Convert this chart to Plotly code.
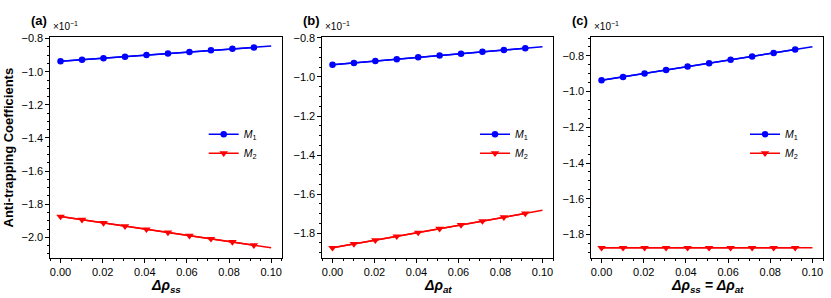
import plotly.graph_objects as go

# ---- data (values shown in units of 1e-1) ----
x_vals = [0.0, 0.0102, 0.0204, 0.0306, 0.0408, 0.0510, 0.0612, 0.0714, 0.0816, 0.0918, 0.1]
n_markers = 10

m1_a = [-0.937, -0.928, -0.918, -0.909, -0.899, -0.890, -0.881, -0.871, -0.862, -0.853, -0.845]
m2_a = [-1.875, -1.894, -1.913, -1.933, -1.952, -1.971, -1.990, -2.009, -2.028, -2.048, -2.063]

m1_b = [-0.937, -0.928, -0.918, -0.909, -0.899, -0.890, -0.881, -0.871, -0.862, -0.853, -0.845]
m2_b = [-1.875, -1.855, -1.836, -1.816, -1.797, -1.777, -1.758, -1.738, -1.718, -1.699, -1.683]

m1_c = [-0.937, -0.918, -0.899, -0.879, -0.860, -0.841, -0.822, -0.803, -0.784, -0.764, -0.749]
m2_c = [-1.875, -1.875, -1.875, -1.875, -1.875, -1.875, -1.875, -1.875, -1.875, -1.875, -1.875]

panel_labels = ["(a)", "(b)", "(c)"]
x_titles = ["<b><i>Δρ<sub>ss</sub></i></b>",
            "<b><i>Δρ<sub>at</sub></i></b>",
            "<b><i>Δρ<sub>ss</sub> = Δρ<sub>at</sub></i></b>"]
y_title = "Anti-trapping Coefficients"
series_names = ["<i>M</i><sub>1</sub>", "<i>M</i><sub>2</sub>"]
y_ranges = [[-2.125, -0.790], [-1.927, -0.795], [-1.932, -0.694]]

# ---- layout geometry ----
W, H = 831, 298
FONT = "Liberation Sans, Arial, sans-serif"
panels_px = [(50, 281.7), (322, 553), (591, 823)]
top_px, bot_px = 32.5, 257.3
ydom = [1 - bot_px / H, 1 - top_px / H]

fig = go.Figure()
data = [(m1_a, m2_a), (m1_b, m2_b), (m1_c, m2_c)]
colors = ["#0000ff", "#ff0000"]
symbols = ["circle", "triangle-down"]
sizes = [6.5, 7.5]

for i, (m1, m2) in enumerate(data):
    xa = "x" if i == 0 else f"x{i+1}"
    ya = "y" if i == 0 else f"y{i+1}"
    lg = "legend" if i == 0 else f"legend{i+1}"
    for j, ys in enumerate((m1, m2)):
        fig.add_trace(go.Scatter(x=x_vals, y=ys, mode="lines",
                                 line=dict(color=colors[j], width=1.5),
                                 xaxis=xa, yaxis=ya, showlegend=False,
                                 hoverinfo="skip"))
        fig.add_trace(go.Scatter(x=x_vals[:n_markers], y=ys[:n_markers],
                                 mode="lines+markers", name=series_names[j],
                                 line=dict(color=colors[j], width=1.5),
                                 marker=dict(color=colors[j], symbol=symbols[j], size=sizes[j]),
                                 xaxis=xa, yaxis=ya, legend=lg))

layout = dict(width=W, height=H, margin=dict(l=0, r=0, t=0, b=0),
              paper_bgcolor="white", plot_bgcolor="white",
              font=dict(family=FONT, size=11, color="black"))

annotations = []
for i, (x0, x1) in enumerate(panels_px):
    sx = "" if i == 0 else str(i + 1)
    layout[f"xaxis{sx}"] = dict(
        domain=[x0 / W, x1 / W], anchor=f"y{sx}", range=[-0.005, 0.105],
        dtick=0.02, tick0=0, tickformat=".2f", ticks="outside", ticklen=3.5,
        tickwidth=1, tickcolor="black", showline=True, mirror=True,
        linecolor="black", linewidth=1.2, showgrid=False, zeroline=False,
        tickfont=dict(size=11, family=FONT),
        minor=dict(ticks="outside", dtick=0.005, tick0=0, ticklen=2, tickcolor="black", showgrid=False))
    layout[f"yaxis{sx}"] = dict(
        domain=ydom, anchor=f"x{sx}", range=y_ranges[i],
        dtick=0.2, tick0=0, tickformat=".1f", ticks="outside", ticklen=3.5,
        tickwidth=1, tickcolor="black", showline=True, mirror=True,
        linecolor="black", linewidth=1.2, showgrid=False, zeroline=False,
        tickfont=dict(size=11, family=FONT),
        minor=dict(ticks="outside", dtick=0.05, tick0=0, ticklen=2, tickcolor="black", showgrid=False))
    lgkey = "legend" if i == 0 else f"legend{i+1}"
    layout[lgkey] = dict(x=(x1 - 78) / W, y=1 - 141 / H, xanchor="left", yanchor="middle",
                         bgcolor="rgba(0,0,0,0)", font=dict(size=10.5, family=FONT),
                         itemwidth=30, tracegroupgap=0)
    cx = (x0 + x1) / 2
    annotations.append(dict(text=x_titles[i], x=cx / W, y=1 - 286 / H, xref="paper", yref="paper",
                            showarrow=False, xanchor="center", yanchor="middle",
                            font=dict(size=14, family=FONT)))
    annotations.append(dict(text="<b>" + panel_labels[i] + "</b>", x=(x0 - 21) / W, y=1 - 16 / H,
                            xref="paper", yref="paper", showarrow=False,
                            xanchor="left", yanchor="middle", font=dict(size=13, family=FONT)))
    annotations.append(dict(text="×10<sup>−1</sup>", x=(x0 + 1) / W, y=1 - 21 / H,
                            xref="paper", yref="paper", showarrow=False,
                            xanchor="left", yanchor="middle", font=dict(size=10, family=FONT)))

annotations.append(dict(text="<b>" + y_title + "</b>", x=8 / W, y=(ydom[0] + ydom[1]) / 2,
                        xref="paper", yref="paper", showarrow=False, textangle=-90,
                        xanchor="center", yanchor="middle", font=dict(size=13, family=FONT)))
layout["annotations"] = annotations
fig.update_layout(**layout)
fig.write_html("out.html", config={"displayModeBar": False},
               post_script="document.body.style.margin='0px';")
